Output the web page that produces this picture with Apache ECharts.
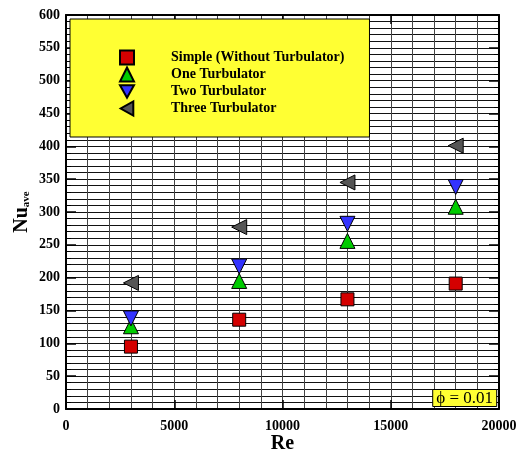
<!DOCTYPE html>
<html>
<head>
<meta charset="utf-8">
<script src="https://cdn.jsdelivr.net/npm/echarts@6/dist/echarts.min.js"></script>
<style>
  html, body { margin: 0; padding: 0; background: #fff; }
  #main { width: 519px; height: 452px; }
</style>
</head>
<body>
<div id="main"></div>
<script>
// Reynolds numbers
const reValues = [3000, 8000, 13000, 18000];
// Nu_ave for each case
const simpleNu = [95, 136, 167, 191];
const oneNu = [126, 195, 256, 308];
const twoNu = [138, 217, 282, 338];
const threeNu = [192, 277, 345, 401];
const seriesNames = ["Simple (Without Turbulator)", "One Turbulator", "Two Turbulator", "Three Turbulator"];

const serif = "'Liberation Serif', 'Times New Roman', serif";

let mychart = echarts.init(document.getElementById("main"));

const pairs = (ys) => reValues.map((x, i) => [x, ys[i]]);

const mk = (name, ys, symbol, rotate, color, size) => ({
  name: name,
  type: "scatter",
  data: pairs(ys),
  symbol: symbol,
  symbolRotate: rotate,
  symbolSize: size,
  itemStyle: { color: color, borderColor: "#000", borderWidth: 1, opacity: 1 },
  z: 5
});

// legend icons (rotation is not carried over to the legend)
const downTri = "path://M0,0 L10,0 L5,9 Z";
const leftTri = "path://M9,0 L9,10 L0,5 Z";

let option = {
  animation: false,
  backgroundColor: "#fff",
  grid: { left: 66, right: 20, top: 15, bottom: 43, outerBoundsMode: "none" },
  title: {
    text: "\u03d5 = 0.01",
    right: 22,
    bottom: 45,
    padding: [1, 4, 0, 4],
    backgroundColor: "#ffff33",
    borderColor: "#000",
    borderWidth: 1,
    textStyle: { fontFamily: serif, fontSize: 17, fontWeight: "normal", color: "#000" }
  },
  legend: {
    orient: "vertical",
    left: 70,
    top: 19,
    padding: [30, 25, 20, 49],
    itemWidth: 14,
    itemHeight: 14,
    itemGap: 0,
    backgroundColor: "#ffff33",
    borderColor: "#000",
    borderWidth: 1,
    data: [
      { name: seriesNames[0], icon: "rect" },
      { name: seriesNames[1], icon: "triangle" },
      { name: seriesNames[2], icon: downTri },
      { name: seriesNames[3], icon: leftTri }
    ],
    textStyle: { fontFamily: serif, fontSize: 14, lineHeight: 17, fontWeight: "bold", color: "#000", padding: [0, 0, 0, 32] }
  },
  xAxis: [
    {
      type: "value",
      min: 0,
      max: 20000,
      interval: 5000,
      name: "Re",
      nameLocation: "middle",
      nameGap: 25,
      nameMoveOverlap: false,
      nameTextStyle: { fontFamily: serif, fontSize: 20, fontWeight: "bold", color: "#000" },
      axisLine: { show: true, onZero: false, lineStyle: { color: "#000", width: 2 } },
      axisTick: { show: true, inside: true, length: 9, lineStyle: { color: "#000", width: 1.5 } },
      minorTick: { show: false, splitNumber: 5 },
      axisLabel: { fontFamily: serif, fontSize: 14, fontWeight: "bold", color: "#000", margin: 10, formatter: (v) => String(v) },
      splitLine: { show: true, lineStyle: { color: "#444", width: 1 } },
      minorSplitLine: { show: true, lineStyle: { color: "#444", width: 1 } }
    },
    {
      type: "value",
      position: "top",
      min: 0,
      max: 20000,
      interval: 5000,
      axisLine: { show: true, onZero: false, lineStyle: { color: "#000", width: 2 } },
      axisTick: { show: true, inside: true, length: 9, lineStyle: { color: "#000", width: 1.5 } },
      axisLabel: { show: false },
      splitLine: { show: false }
    }
  ],
  yAxis: [
    {
      type: "value",
      min: 0,
      max: 600,
      interval: 50,
      name: "{a|Nu}{b|ave}",
      nameLocation: "middle",
      nameRotate: 90,
      nameGap: 34,
      nameMoveOverlap: false,
      nameTextStyle: {
        rich: {
          a: { fontFamily: serif, fontSize: 20, fontWeight: "bold", color: "#000" },
          b: { fontFamily: serif, fontSize: 11, fontWeight: "bold", color: "#000", verticalAlign: "bottom", padding: [8, 0, 0, 0] }
        }
      },
      axisLine: { show: true, onZero: false, lineStyle: { color: "#000", width: 2 } },
      axisTick: { show: true, inside: true, length: 10, lineStyle: { color: "#000", width: 1.5 } },
      minorTick: { show: true, splitNumber: 5, length: 5, lineStyle: { color: "#000", width: 1 } },
      axisLabel: { fontFamily: serif, fontSize: 14, fontWeight: "bold", color: "#000", margin: 6 },
      splitLine: { show: true, lineStyle: { color: "#111", width: 1 } },
      minorSplitLine: { show: true, lineStyle: { color: "#111", width: 1 } }
    },
    {
      type: "value",
      position: "right",
      min: 0,
      max: 600,
      interval: 50,
      axisLine: { show: true, onZero: false, lineStyle: { color: "#000", width: 2 } },
      axisTick: { show: true, inside: true, length: 10, lineStyle: { color: "#000", width: 1.5 } },
      minorTick: { show: true, splitNumber: 5, length: 5, lineStyle: { color: "#000", width: 1 } },
      axisLabel: { show: false },
      splitLine: { show: false }
    }
  ],
  series: [
    mk(seriesNames[0], simpleNu, "rect", 0, "#d40000", 13),
    mk(seriesNames[1], oneNu, "triangle", 0, "#00cc00", 15),
    mk(seriesNames[2], twoNu, "triangle", 180, "#3333ff", 15),
    mk(seriesNames[3], threeNu, "triangle", 90, "#555555", 15)
  ]
};

mychart.setOption(option);
</script>
</body>
</html>
